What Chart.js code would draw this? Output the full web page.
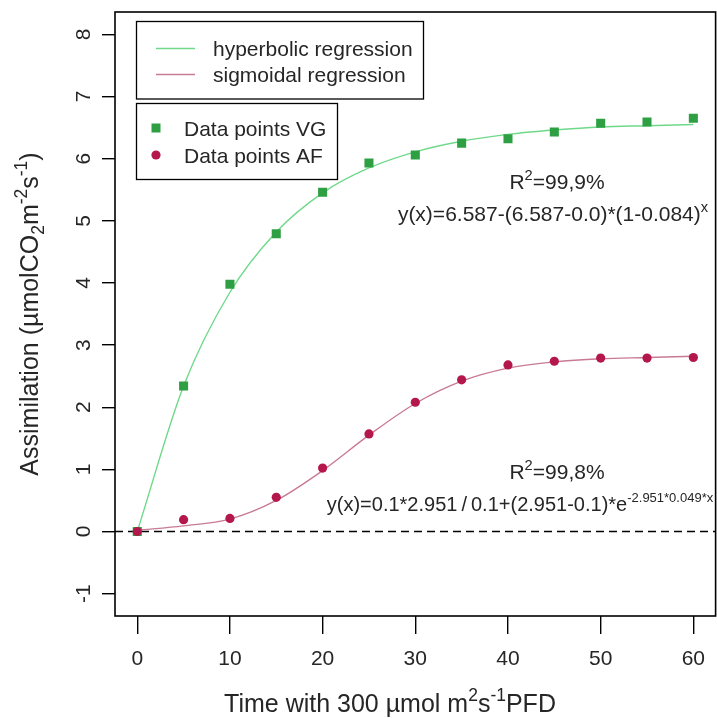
<!DOCTYPE html>
<html>
<head>
<meta charset="utf-8">
<script src="https://cdn.jsdelivr.net/npm/chart.js@4/dist/chart.umd.min.js"></script>
<style>
  html, body { margin: 0; padding: 0; background: #ffffff; overflow: hidden; }
  canvas { display: block; }
</style>
</head>
<body>
<canvas id="c" width="722" height="718" style="width:722px;height:718px"></canvas>
<script>
// Measurement times (min) and assimilation readings
const times = [0, 5, 10, 15, 20, 25, 30, 35, 40, 45, 50, 55, 60];
const assimVG = [0, 2.34, 3.98, 4.79, 5.46, 5.93, 6.06, 6.25, 6.32, 6.43, 6.57, 6.59, 6.65];
const assimAF = [0, 0.19, 0.21, 0.55, 1.02, 1.57, 2.08, 2.44, 2.68, 2.74, 2.79, 2.79, 2.80];

// Fitted regression curves, sampled at the same times
const hyperbolicFit = [0, 2.34, 3.85, 4.82, 5.45, 5.85, 6.11, 6.28, 6.39, 6.46, 6.51, 6.53, 6.55];
const sigmoidalFit = [0.02, 0.09, 0.2, 0.5, 0.98, 1.55, 2.06, 2.42, 2.63, 2.73, 2.78, 2.80, 2.82];

// Axis ticks
const xTicks = [0, 10, 20, 30, 40, 50, 60];
const yTicks = [-1, 0, 1, 2, 3, 4, 5, 6, 7, 8];

const FONT = '"Liberation Sans", Arial, Helvetica, sans-serif';
const BASE = 21;
const TITLE = 25;
const INK = '#262626';
const COL_VG = '#2ea043';
const COL_AF = '#b3174b';
const COL_HYP = '#6fd98a';
const COL_SIG = '#c97b93';

const pts = (xs, ys) => xs.map((x, i) => ({ x: x, y: ys[i] }));

// Draws a run of text pieces with optional superscript / subscript parts
function richWidth(ctx, parts, size, small) {
  let w = 0;
  for (const [t, kind] of parts) {
    const s = kind === 'n' ? size : size * small;
    ctx.font = s + 'px ' + FONT;
    w += ctx.measureText(t).width;
  }
  return w;
}
function drawRich(ctx, parts, x, y, size, align, small) {
  small = small || 0.7;
  const w = richWidth(ctx, parts, size, small);
  let cx = align === 'center' ? x - w / 2 : (align === 'right' ? x - w : x);
  ctx.textAlign = 'left';
  ctx.textBaseline = 'alphabetic';
  for (const [t, kind] of parts) {
    const s = kind === 'n' ? size : size * small;
    ctx.font = s + 'px ' + FONT;
    let dy = 0;
    if (kind === 'sup') dy = -size * 0.45;
    if (kind === 'sub') dy = size * 0.25;
    ctx.fillText(t, cx, y + dy);
    cx += ctx.measureText(t).width;
  }
}

const decorations = {
  id: 'decorations',
  beforeDatasetsDraw(chart) {
    const { ctx, chartArea: a, scales: { y } } = chart;
    const y0 = y.getPixelForValue(0);
    ctx.save();
    ctx.strokeStyle = '#000';
    ctx.lineWidth = 1.6;
    ctx.setLineDash([8, 5]);
    ctx.beginPath();
    ctx.moveTo(a.left, y0);
    ctx.lineTo(a.right, y0);
    ctx.stroke();
    ctx.restore();
  },
  afterDraw(chart) {
    const { ctx, chartArea: a, scales: { x, y } } = chart;
    ctx.save();
    // plot frame
    ctx.strokeStyle = '#000';
    ctx.lineWidth = 1.6;
    ctx.strokeRect(a.left, a.top, a.right - a.left, a.bottom - a.top);

    ctx.fillStyle = INK;
    // x tick labels
    ctx.font = BASE + 'px ' + FONT;
    ctx.textAlign = 'center';
    ctx.textBaseline = 'alphabetic';
    xTicks.forEach(v => ctx.fillText(String(v), x.getPixelForValue(v), 665));
    // y tick labels, rotated
    yTicks.forEach(v => {
      ctx.save();
      ctx.translate(90, y.getPixelForValue(v));
      ctx.rotate(-Math.PI / 2);
      ctx.font = BASE + 'px ' + FONT;
      ctx.textAlign = 'center';
      ctx.textBaseline = 'alphabetic';
      ctx.fillText(String(v), 0, 0);
      ctx.restore();
    });

    // axis titles
    drawRich(ctx, [['Time with 300 \u00b5mol m', 'n'], ['2', 'sup'], ['s', 'n'], ['-1', 'sup'], ['PFD', 'n']],
      390, 712, TITLE, 'center');
    ctx.save();
    ctx.translate(38, (a.top + a.bottom) / 2);
    ctx.rotate(-Math.PI / 2);
    drawRich(ctx, [['Assimilation (\u00b5molCO', 'n'], ['2', 'sub'], ['m', 'n'], ['-2', 'sup'], ['s', 'n'], ['-1', 'sup'], [')', 'n']],
      0, 0, TITLE, 'center');
    ctx.restore();

    // regression statistics
    drawRich(ctx, [['R', 'n'], ['2', 'sup'], ['=99,9%', 'n']], 557, 189, BASE, 'center');
    drawRich(ctx, [['y(x)=6.587-(6.587-0.0)*(1-0.084)', 'n'], ['x', 'sup']], 553, 221, BASE, 'center');
    drawRich(ctx, [['R', 'n'], ['2', 'sup'], ['=99,8%', 'n']], 557, 479, BASE, 'center');
    drawRich(ctx, [['y(x)=0.1*2.951\u2009/\u20090.1+(2.951-0.1)*e', 'n'], ['-2.951*0.049*x', 'sup']], 520, 511, 20, 'center', 0.65);

    // legend: regression lines
    ctx.lineWidth = 1.3;
    ctx.strokeStyle = '#000';
    ctx.fillStyle = '#fff';
    ctx.fillRect(136.5, 21.5, 287, 77.5);
    ctx.strokeRect(136.5, 21.5, 287, 77.5);
    ctx.strokeStyle = COL_HYP;
    ctx.beginPath(); ctx.moveTo(156, 48.5); ctx.lineTo(195, 48.5); ctx.stroke();
    ctx.strokeStyle = COL_SIG;
    ctx.beginPath(); ctx.moveTo(156, 74.5); ctx.lineTo(195, 74.5); ctx.stroke();
    ctx.fillStyle = INK;
    ctx.font = BASE + 'px ' + FONT;
    ctx.textAlign = 'left';
    ctx.fillText('hyperbolic regression', 213, 56);
    ctx.fillText('sigmoidal regression', 213, 82);

    // legend: data points
    ctx.strokeStyle = '#000';
    ctx.fillStyle = '#fff';
    ctx.fillRect(136.5, 103.5, 201, 76);
    ctx.strokeRect(136.5, 103.5, 201, 76);
    ctx.fillStyle = COL_VG;
    ctx.fillRect(151.5, 123.5, 9, 9);
    ctx.fillStyle = COL_AF;
    ctx.beginPath(); ctx.arc(156, 155, 4.6, 0, Math.PI * 2); ctx.fill();
    ctx.fillStyle = INK;
    ctx.fillText('Data points VG', 184, 136);
    ctx.fillText('Data points AF', 184, 163);
    ctx.restore();
  }
};

new Chart(document.getElementById('c'), {
  type: 'scatter',
  data: {
    datasets: [
      { label: 'hyperbolic regression', data: pts(times, hyperbolicFit), showLine: true,
        borderColor: COL_HYP, borderWidth: 1.4, pointRadius: 0, cubicInterpolationMode: 'monotone', order: 4 },
      { label: 'sigmoidal regression', data: pts(times, sigmoidalFit), showLine: true,
        borderColor: COL_SIG, borderWidth: 1.4, pointRadius: 0, cubicInterpolationMode: 'monotone', order: 3 },
      { label: 'Data points VG', data: pts(times, assimVG), showLine: false,
        pointStyle: 'rect', pointRadius: 6.4, backgroundColor: COL_VG, borderColor: COL_VG, borderWidth: 0, order: 2 },
      { label: 'Data points AF', data: pts(times, assimAF), showLine: false,
        pointStyle: 'circle', pointRadius: 4.6, backgroundColor: COL_AF, borderColor: COL_AF, borderWidth: 0, order: 1 }
    ]
  },
  options: {
    responsive: false,
    animation: false,
    devicePixelRatio: 1,
    layout: { padding: { top: 12, right: 3, left: 0, bottom: 0 } },
    plugins: { legend: { display: false }, tooltip: { enabled: false } },
    scales: {
      x: {
        type: 'linear', min: -2.4, max: 62.4,
        afterBuildTicks: s => { s.ticks = xTicks.map(v => ({ value: v })); },
        afterFit: s => { s.height = 102; },
        ticks: { display: false, autoSkip: false },
        grid: { drawOnChartArea: false, drawTicks: true, tickLength: 18, color: '#000', lineWidth: 1.4 },
        border: { display: false }
      },
      y: {
        type: 'linear', min: -1.36, max: 8.36,
        afterBuildTicks: s => { s.ticks = yTicks.map(v => ({ value: v })); },
        afterFit: s => { s.width = 115; },
        ticks: { display: false, autoSkip: false },
        grid: { drawOnChartArea: false, drawTicks: true, tickLength: 13, color: '#000', lineWidth: 1.4 },
        border: { display: false }
      }
    }
  },
  plugins: [decorations]
});
</script>
</body>
</html>
